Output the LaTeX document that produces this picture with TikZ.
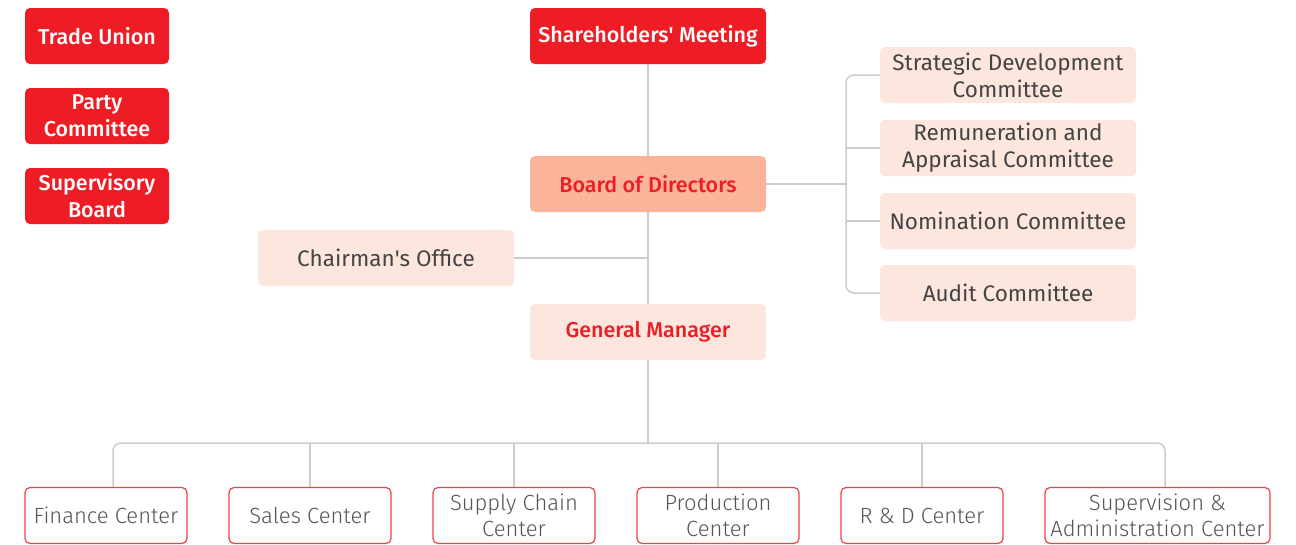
\documentclass[tikz,border=0pt]{standalone}
\usepackage{fontspec}
\setmainfont{Fira Sans}[BoldFont={* Medium}]
\newfontfamily\thinfont{Fira Sans Light}
\usetikzlibrary{calc}
\definecolor{corpred}{HTML}{EE1D25}
\definecolor{salmon}{HTML}{F9B49A}
\definecolor{blush}{HTML}{FCE6DD}
\definecolor{darktext}{HTML}{444444}
\definecolor{softtext}{HTML}{555555}
\definecolor{linegray}{HTML}{CCCCCC}
\tikzset{%
box/.style={rounded corners=5pt,minimum height=56pt,align=center,inner sep=0pt,
            font=\fontsize{22.5}{27}\selectfont},
org/.style={box,fill=corpred,text=white,minimum width=144pt,
            font=\fontsize{21.5}{27}\selectfont\bfseries},
head/.style={box,fill=corpred,text=white,minimum width=236pt,
            font=\fontsize{21.5}{27}\selectfont\bfseries},
board/.style={box,fill=salmon,text=corpred,minimum width=236pt,
            font=\fontsize{21.5}{27}\selectfont\bfseries},
staff/.style={box,fill=blush,text=darktext,minimum width=256pt},
gm/.style={box,fill=blush,text=corpred,minimum width=236pt,
            font=\fontsize{21.5}{27}\selectfont\bfseries},
unit/.style={box,draw=corpred!85,line width=1.2pt,fill=white,text=softtext,minimum width=162pt,
            font=\fontsize{22}{26}\selectfont\thinfont},
link/.style={draw=linegray,line width=1.5pt},
elbow/.style={link,rounded corners=8pt}
}
\pgfdeclarelayer{background}
\pgfsetlayers{background,main}

\begin{document}
\begin{tikzpicture}[x=1pt,y=-1pt]
\useasboundingbox (0,0) rectangle (1296,544);
%%
\node[org] (Union) at (97,36)  {Trade Union};
\node[org] (Party) at (97,116) {Party\\Committee};
\node[org] (SupB)  at (97,196) {Supervisory\\Board};
%%
\node[head]  (Share) at (648,36)  {Shareholders\textquotesingle{} Meeting};
\node[board] (BoD)   at (648,184) {Board of Directors};
\node[staff] (Chair) at (386,258) {Chairman\textquotesingle{}s Office};
\node[gm]    (GM)    at (648,332) {General Manager};
%%
\foreach \comm/\name/\j in {{Strategic Development\\Committee}/Strat/75,
                            {Remuneration and\\Appraisal Committee}/Rem/148,
                            {Nomination Committee}/Nom/221,
                            {Audit Committee}/Audit/293%
                           }
     \node[staff] (\name) at (1008,\j) {\comm};
%%
\foreach \unitName/\name/\i in {{Finance Center}/Fin/106,
                                {Sales Center}/Sales/310,
                                {Supply Chain\\Center}/Supply/514,
                                {Production\\Center}/Prod/718,
                                {R \& D Center}/RD/922%
                               }
     \node[unit] (\name) at (\i,515.5) {\unitName};
\node[unit,minimum width=225pt] (SupAd) at (1157.5,515.5) {Supervision \&\\Administration Center};
%%%%%%%%%%%%%%
\coordinate (cbus) at (846,184);
\coordinate (ubus) at (648,443);
%%
\begin{pgfonlayer}{background}
\draw[link] (Share) -- (BoD);
\draw[link] (BoD)   -- (GM);
\draw[link] (Chair) -- (Chair -| GM);
%
\draw[link] (BoD) -- (cbus);
\draw[elbow] (Strat.west) -| (cbus) |- (Audit.west);
\draw[link] (Rem.west) -- (Rem.west -| cbus);
\draw[link] (Nom.west) -- (Nom.west -| cbus);
%
\draw[link] (GM) -- (ubus);
\draw[elbow] ([xshift=7pt]Fin.north) |- (ubus) -| ([xshift=7.5pt]SupAd.north);
\foreach \name in {Sales,Supply,Prod,RD}
     \draw[link] (\name.north) -- (\name.north |- ubus);
\end{pgfonlayer}
\end{tikzpicture}
\end{document}
